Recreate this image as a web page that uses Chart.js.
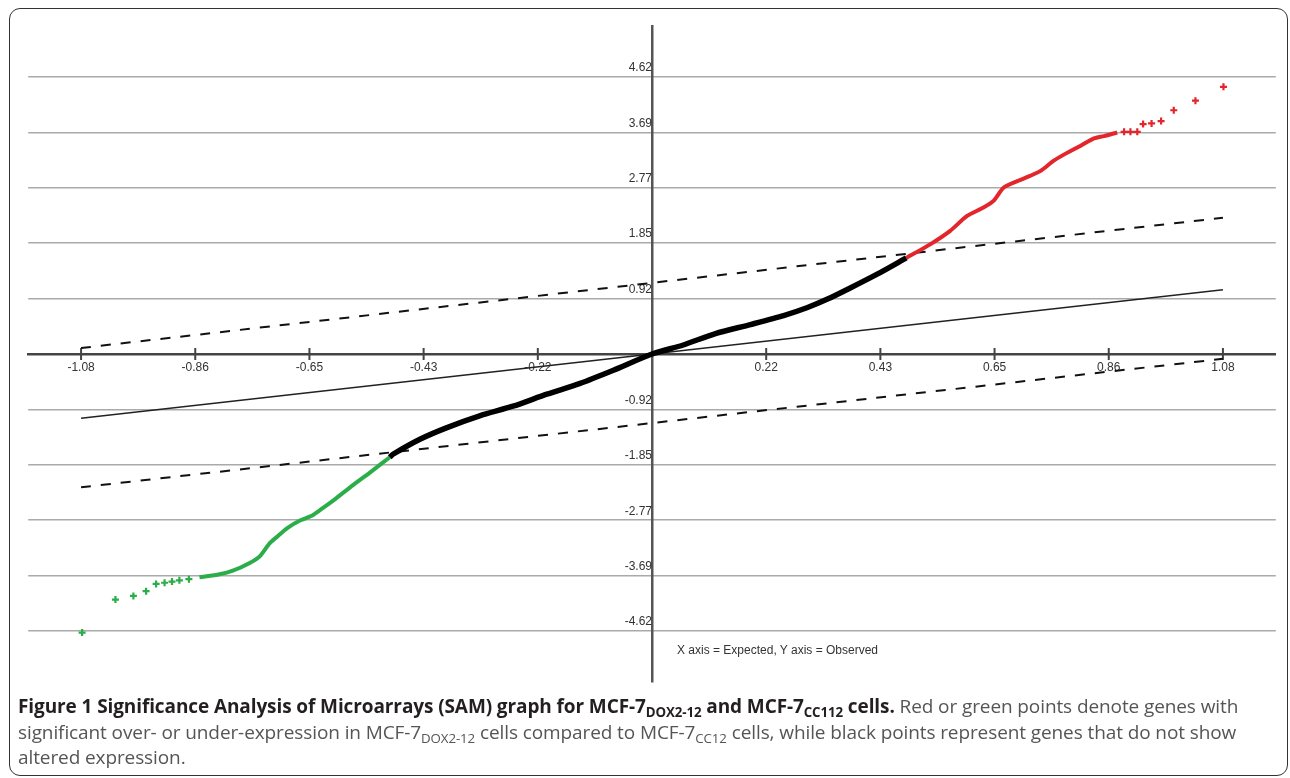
<!DOCTYPE html>
<html>
<head>
<meta charset="utf-8">
<script src="https://cdn.jsdelivr.net/npm/chart.js@4.4.1/dist/chart.umd.min.js"></script>
<style>
  html, body { margin: 0; padding: 0; background: #fff; }
  body { width: 1290px; height: 778px; position: relative; overflow: hidden; }
  .frame {
    position: absolute; left: 9px; top: 8px; width: 1277px; height: 766px;
    border: 1.5px solid #333; border-radius: 11px;
  }
  #wrap { position: absolute; left: 22px; top: 12px; width: 1260px; height: 684px; }
  .note {
    position: absolute; left: 677px; top: 643px;
    font: 12px "Liberation Sans", Arial, sans-serif; color: #333;
  }
  .cap {
    position: absolute; left: 18px; top: 694px;
    font-family: "Open Sans", sans-serif; font-size: 19px; line-height: 25.5px;
    color: #555; white-space: nowrap; letter-spacing: -0.1px;
  }
  .cap b { color: #231f20; font-weight: 700; }
  .cap sub { font-size: 0.7em; vertical-align: -4px; line-height: 0; }
</style>
</head>
<body>
<div class="frame"></div>
<div id="wrap"><canvas id="samChart"></canvas></div>
<div class="note">X axis = Expected, Y axis = Observed</div>
<div class="cap"><b>Figure 1 Significance Analysis of Microarrays (SAM) graph for MCF-7<sub>DOX2-12</sub> and MCF-7<sub>CC112</sub> cells.</b> Red or green points denote genes with<br>significant over- or under-expression in MCF-7<sub>DOX2-12</sub> cells compared to MCF-7<sub>CC12</sub> cells, while black points represent genes that do not show<br>altered expression.</div>
<script>
// tick values and the labels the plot prints for them
const xTickValues = [-1.08, -0.864, -0.648, -0.432, -0.216, 0, 0.216, 0.432, 0.648, 0.864, 1.08];
const xTickLabels = ["-1.08", "-0.86", "-0.65", "-0.43", "-0.22", "", "0.22", "0.43", "0.65", "0.86", "1.08"];
const yTickValues = [-4.615, -3.692, -2.769, -1.846, -0.923, 0, 0.923, 1.846, 2.769, 3.692, 4.615];
const yTickLabels = ["-4.62", "-3.69", "-2.77", "-1.85", "-0.92", "", "0.92", "1.85", "2.77", "3.69", "4.62"];

// expected (x) vs observed (y)
const blackGenes = [
  [-0.496, -1.72], [-0.49, -1.67], [-0.439, -1.42], [-0.389, -1.23], [-0.326, -1.03],
  [-0.263, -0.87], [-0.199, -0.67], [-0.136, -0.49], [-0.073, -0.27], [0, 0],
  [0.059, 0.15], [0.12, 0.34], [0.186, 0.49], [0.249, 0.64], [0.293, 0.77],
  [0.331, 0.91], [0.375, 1.1], [0.426, 1.33], [0.481, 1.6]
];
const redGenes = [
  [0.481, 1.6], [0.527, 1.83], [0.564, 2.05], [0.596, 2.3], [0.627, 2.44], [0.646, 2.55],
  [0.665, 2.77], [0.691, 2.88], [0.716, 2.97], [0.735, 3.05], [0.76, 3.22], [0.785, 3.35],
  [0.811, 3.47], [0.836, 3.59], [0.855, 3.63], [0.88, 3.69]
];
const redOutliers = [
  [0.893, 3.7], [0.905, 3.7], [0.918, 3.7], [0.929, 3.83], [0.945, 3.84], [0.963, 3.88],
  [0.987, 4.06], [1.028, 4.22], [1.081, 4.45]
];
const greenGenes = [
  [-0.496, -1.72], [-0.53, -1.95], [-0.565, -2.18], [-0.6, -2.42], [-0.625, -2.58],
  [-0.645, -2.7], [-0.665, -2.77], [-0.69, -2.9], [-0.71, -3.05], [-0.723, -3.15],
  [-0.742, -3.37], [-0.761, -3.48], [-0.793, -3.61], [-0.818, -3.67], [-0.856, -3.72]
];
const greenOutliers = [
  [-0.876, -3.75], [-0.894, -3.77], [-0.908, -3.79], [-0.922, -3.81], [-0.938, -3.83],
  [-0.957, -3.95], [-0.981, -4.03], [-1.015, -4.09], [-1.078, -4.64]
];
const upperCutoff = [[-1.08, 0.1], [1.08, 2.27]];
const lowerCutoff = [[-1.08, -2.22], [1.08, -0.08]];
const diagonal = [[-1.08, -1.07], [1.08, 1.07]];

const toXY = (pairs) => pairs.map(([x, y]) => ({ x, y }));

// x axis ticks cross the axis line, which chart.js does not do on its own
const crossTicks = {
  id: "crossTicks",
  beforeDatasetsDraw(chart) {
    const { ctx, scales: { x, y } } = chart;
    const y0 = y.getPixelForValue(0);
    ctx.save();
    ctx.strokeStyle = "#444";
    ctx.lineWidth = 2;
    xTickValues.forEach((v) => {
      if (v === 0) return;
      const px = x.getPixelForValue(v);
      ctx.beginPath();
      ctx.moveTo(px, y0 - 6);
      ctx.lineTo(px, y0 + 6);
      ctx.stroke();
    });
    ctx.restore();
  },
};

function lineSet(data, color, width, dash, order) {
  return {
    data: toXY(data), showLine: true, borderColor: color, backgroundColor: color,
    borderWidth: width, borderDash: dash, pointRadius: 0, tension: 0.25, order,
  };
}

function pointSet(data, color, order) {
  return {
    data: toXY(data), showLine: false, pointStyle: "cross", pointRadius: 3.5,
    borderColor: color, backgroundColor: color, pointBorderWidth: 2.2, order,
  };
}

new Chart(document.getElementById("samChart"), {
  type: "scatter",
  data: {
    datasets: [
      lineSet(blackGenes, "#000", 5.5, [], 1),
      lineSet(redGenes, "#e3262b", 4, [], 2),
      pointSet(redOutliers, "#e3262b", 2),
      lineSet(greenGenes, "#2bae4a", 4, [], 2),
      pointSet(greenOutliers, "#2bae4a", 2),
      lineSet(upperCutoff, "#111", 2, [10, 10], 5),
      lineSet(lowerCutoff, "#111", 2, [10, 10], 5),
      lineSet(diagonal, "#222", 1.5, [], 6),
    ],
  },
  plugins: [crossTicks],
  options: {
    responsive: true,
    maintainAspectRatio: false,
    animation: false,
    layout: { padding: 0 },
    plugins: { legend: { display: false }, tooltip: { enabled: false } },
    scales: {
      x: {
        type: "linear", min: -1.18, max: 1.18, position: { y: 0 },
        afterBuildTicks: (scale) => { scale.ticks = xTickValues.map((value) => ({ value })); },
        grid: { drawOnChartArea: false, drawTicks: false },
        border: { color: "#444", width: 2.5 },
        ticks: {
          autoSkip: false, maxRotation: 0, padding: 6, color: "#333",
          font: { family: "Liberation Sans", size: 12 },
          callback: (value, index) => xTickLabels[index],
        },
      },
      y: {
        type: "linear", min: -5.46, max: 5.46, position: { x: 0 },
        afterBuildTicks: (scale) => { scale.ticks = yTickValues.map((value) => ({ value })); },
        grid: { color: "#aaa", lineWidth: 1.5, drawTicks: false },
        border: { color: "#555", width: 2.5 },
        ticks: {
          autoSkip: false, padding: 7, labelOffset: -9, color: "#333",
          font: { family: "Liberation Sans", size: 12 },
          callback: (value, index) => yTickLabels[index],
        },
      },
    },
  },
});
</script>
</body>
</html>
